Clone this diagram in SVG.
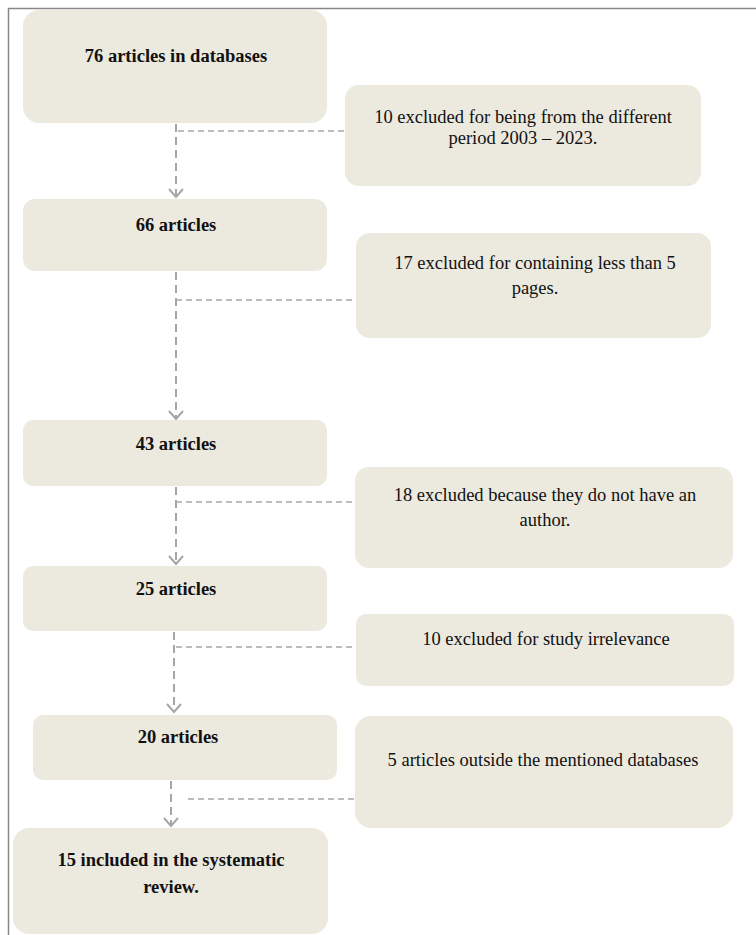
<svg xmlns="http://www.w3.org/2000/svg" width="756" height="935" viewBox="0 0 756 935">
<style>
.box{fill:#ece9df;}
.t{font-family:'Liberation Serif','Times New Roman',Times,serif;font-size:18.5px;fill:#111;text-anchor:middle;}
.b{font-weight:bold;}
.v{fill:none;stroke:#a6a6a6;stroke-width:2;stroke-dasharray:8 5;}
.h{fill:none;stroke:#a6a6a6;stroke-width:1.5;stroke-dasharray:6 4;}
.frame{fill:none;stroke:#888;stroke-width:1.5;}
</style>
<defs>
<marker id="arr" viewBox="-10 -8 12 16" refX="0" refY="0" markerWidth="12" markerHeight="16" markerUnits="userSpaceOnUse" orient="auto">
<path d="M-8,-7 L0,0 L-8,7" fill="none" stroke="#a6a6a6" stroke-width="2" stroke-dasharray="none"/>
</marker>
</defs>
<rect width="756" height="935" fill="#fff"/>
<path class="frame" d="M8.5,935 L8.5,8.5 L756,8.5"/>

<g id="connectors">
<line class="v" x1="176" y1="124" x2="176" y2="197" marker-end="url(#arr)"/>
<line class="h" x1="178" y1="131" x2="345" y2="131"/>
<line class="v" x1="176" y1="272" x2="176" y2="419" marker-end="url(#arr)"/>
<line class="h" x1="176" y1="300" x2="356" y2="300"/>
<line class="v" x1="176" y1="487" x2="176" y2="564" marker-end="url(#arr)"/>
<line class="h" x1="176" y1="502" x2="354" y2="502"/>
<line class="v" x1="174" y1="632" x2="174" y2="712" marker-end="url(#arr)"/>
<line class="h" x1="176" y1="647" x2="356" y2="647"/>
<line class="v" x1="171" y1="781" x2="171" y2="826" marker-end="url(#arr)"/>
<line class="h" x1="188" y1="799" x2="354" y2="799"/>
</g>

<g id="n76">
<rect class="box" x="23" y="10" width="304" height="113" rx="16"/>
<text class="t b" x="176" y="62">76 articles in databases</text>
</g>
<g id="ex10a">
<rect class="box" x="345" y="85" width="356" height="101" rx="14"/>
<text class="t" x="523" y="123">10 excluded for being from the different</text>
<text class="t" x="523" y="144">period 2003 – 2023.</text>
</g>
<g id="n66">
<rect class="box" x="23" y="199" width="304" height="72" rx="12"/>
<text class="t b" x="176" y="231">66 articles</text>
</g>
<g id="ex17">
<rect class="box" x="356" y="233" width="355" height="105" rx="14"/>
<text class="t" x="535" y="269">17 excluded for containing less than 5</text>
<text class="t" x="535" y="294">pages.</text>
</g>
<g id="n43">
<rect class="box" x="23" y="420" width="304" height="66" rx="10"/>
<text class="t b" x="176" y="450">43 articles</text>
</g>
<g id="ex18">
<rect class="box" x="355" y="467" width="378" height="101" rx="14"/>
<text class="t" x="545" y="501">18 excluded because they do not have an</text>
<text class="t" x="545" y="526">author.</text>
</g>
<g id="n25">
<rect class="box" x="23" y="566" width="304" height="65" rx="10"/>
<text class="t b" x="176" y="595">25 articles</text>
</g>
<g id="ex10b">
<rect class="box" x="356" y="614" width="378" height="72" rx="10"/>
<text class="t" x="546" y="645">10 excluded for study irrelevance</text>
</g>
<g id="n20">
<rect class="box" x="33" y="715" width="304" height="65" rx="10"/>
<text class="t b" x="178" y="743">20 articles</text>
</g>
<g id="ex5">
<rect class="box" x="355" y="716" width="378" height="112" rx="16"/>
<text class="t" x="543" y="766">5 articles outside the mentioned databases</text>
</g>
<g id="n15">
<rect class="box" x="13" y="828" width="315" height="106" rx="16"/>
<text class="t b" x="171" y="866">15 included in the systematic</text>
<text class="t b" x="171" y="893">review.</text>
</g>
</svg>
